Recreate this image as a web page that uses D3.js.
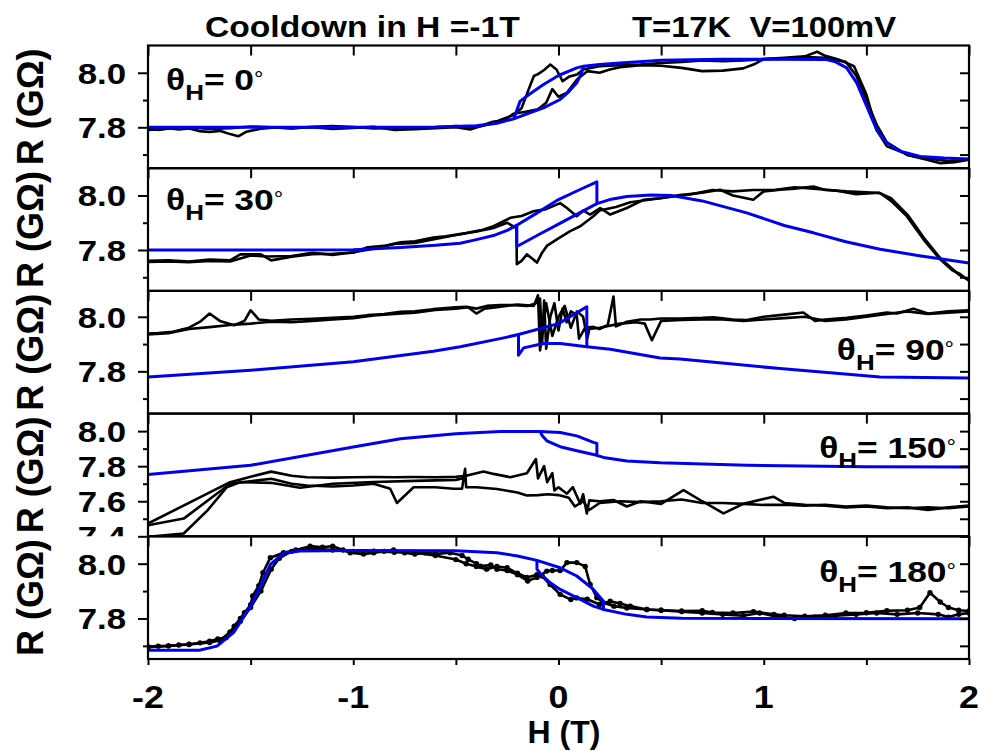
<!DOCTYPE html>
<html><head><meta charset="utf-8">
<script src="https://cdn.jsdelivr.net/npm/d3@7"></script>
<style>
body{margin:0;background:#fff;}
text{font-family:"Liberation Sans",Arial,sans-serif;font-weight:bold;fill:#000;}
</style></head>
<body><svg id="c" width="984" height="751"></svg>
<script>
// ---------------- data ----------------
const H_TICK_LABELS = ["-2","-1","0","1","2"];
const H_MINOR = [-1.5,-0.5,0.5,1.5];
const ANGLES = ["0","30","90","150","180"];
const R_TICKS_STD = [7.8, 8.0];
const R_MINOR_STD = [7.7, 7.9];
const R_TICKS_150 = [7.4, 7.6, 7.8, 8.0];
const R_MINOR_150 = [7.5, 7.7, 7.9];
const TITLE_LEFT = "Cooldown in H =-1T";
const TITLE_RIGHT = "T=17K  V=100mV";

// theta = 0
const p0_blackUp = [[-2.0,7.795],[-1.95,7.79],[-1.9,7.797],[-1.85,7.792],[-1.8,7.796],[-1.75,7.786],[-1.7,7.783],[-1.65,7.787],[-1.6,7.775],[-1.56,7.767],[-1.52,7.784],[-1.45,7.795],[-1.38,7.799],[-1.3,7.797],[-1.2,7.8],[-1.1,7.794],[-1.0,7.798],[-0.9,7.802],[-0.8,7.79],[-0.7,7.793],[-0.6,7.797],[-0.5,7.8],[-0.43,7.792],[-0.38,7.805],[-0.32,7.82],[-0.26,7.826],[-0.22,7.85],[-0.16,7.857],[-0.1,7.866],[-0.06,7.89],[-0.03,7.94],[0.0,7.912],[0.04,7.926],[0.09,7.975],[0.14,8.006],[0.2,8.0],[0.25,8.012],[0.3,8.02],[0.4,8.028],[0.5,8.026],[0.6,8.018],[0.7,8.006],[0.8,8.008],[0.9,8.016],[0.95,8.03],[1.0,8.05],[1.1,8.055],[1.2,8.06],[1.26,8.077],[1.3,8.062],[1.36,8.05],[1.44,8.024],[1.5,7.92],[1.55,7.79],[1.6,7.73],[1.73,7.693],[1.8,7.68],[1.86,7.668],[1.93,7.672],[2.0,7.681]];
const p0_blackDown = [[2.0,7.684],[1.9,7.676],[1.8,7.686],[1.7,7.698],[1.6,7.745],[1.55,7.81],[1.5,7.9],[1.45,7.99],[1.4,8.04],[1.3,8.055],[1.2,8.058],[1.1,8.052],[1.0,8.05],[0.9,8.045],[0.8,8.042],[0.7,8.045],[0.6,8.04],[0.5,8.036],[0.4,8.03],[0.3,8.028],[0.2,8.024],[0.12,8.012],[0.09,7.994],[0.05,7.985],[0.02,7.969],[-0.01,8.012],[-0.04,8.03],[-0.07,8.01],[-0.1,7.995],[-0.12,7.988],[-0.15,7.93],[-0.18,7.87],[-0.22,7.845],[-0.28,7.828],[-0.33,7.812],[-0.4,7.8],[-0.5,7.805],[-0.6,7.8],[-0.7,7.795],[-0.8,7.798],[-0.9,7.796],[-1.0,7.801],[-1.1,7.805],[-1.2,7.802],[-1.3,7.796],[-1.4,7.8],[-1.5,7.803],[-1.6,7.797],[-1.7,7.794],[-1.8,7.8],[-1.9,7.795],[-2.0,7.79]];
const p0_blueUp = [[-2.0,7.8],[-1.5,7.8],[-1.0,7.8],[-0.6,7.801],[-0.4,7.806],[-0.3,7.815],[-0.218,7.831],[-0.15,7.85],[-0.073,7.871],[0.008,7.902],[0.05,7.93],[0.089,7.963],[0.11,7.995],[0.122,8.024],[0.2,8.03],[0.3,8.036],[0.5,8.046],[0.8,8.05],[1.0,8.05],[1.3,8.049],[1.35,8.04],[1.404,8.018],[1.453,7.963],[1.502,7.877],[1.551,7.79],[1.6,7.743],[1.664,7.712],[1.762,7.693],[1.88,7.687],[2.0,7.684]];
const p0_blueDown = [[0.122,8.024],[0.089,8.018],[0.0,7.99],[-0.073,7.957],[-0.14,7.922],[-0.187,7.896],[-0.218,7.831]];

// theta = 30
const p1_blackUp = [[-2.0,7.76],[-1.9,7.762],[-1.8,7.758],[-1.7,7.765],[-1.6,7.762],[-1.55,7.784],[-1.45,7.784],[-1.4,7.762],[-1.3,7.775],[-1.2,7.785],[-1.1,7.786],[-1.0,7.79],[-0.93,7.81],[-0.85,7.815],[-0.77,7.828],[-0.7,7.832],[-0.61,7.846],[-0.55,7.85],[-0.45,7.862],[-0.38,7.872],[-0.317,7.887],[-0.235,7.918],[-0.18,7.925],[-0.122,7.942],[-0.06,7.95],[0.008,7.972],[0.041,7.954],[0.089,7.924],[0.12,7.945],[0.154,7.93],[0.203,7.954],[0.252,7.93],[0.333,7.954],[0.414,7.984],[0.495,7.99],[0.592,8.002],[0.7,8.01],[0.787,8.021],[0.85,8.0],[0.949,7.984],[1.0,8.015],[1.08,8.021],[1.15,8.025],[1.242,8.033],[1.3,8.02],[1.404,8.015],[1.5,8.012],[1.567,8.009],[1.62,7.98],[1.697,7.924],[1.778,7.839],[1.859,7.766],[1.92,7.725],[1.956,7.712],[2.0,7.687]];
const p1_blackDown = [[2.0,7.69],[1.95,7.71],[1.86,7.77],[1.78,7.845],[1.7,7.93],[1.62,7.99],[1.56,8.01],[1.45,8.005],[1.35,8.018],[1.242,8.025],[1.15,8.03],[1.05,8.02],[0.95,8.02],[0.85,8.015],[0.75,8.02],[0.65,8.005],[0.55,7.995],[0.45,7.985],[0.35,7.975],[0.28,7.958],[0.2,7.945],[0.17,7.924],[0.106,7.887],[0.057,7.869],[-0.008,7.839],[-0.057,7.815],[-0.08,7.79],[-0.105,7.754],[-0.13,7.77],[-0.154,7.784],[-0.18,7.76],[-0.203,7.748],[-0.205,7.88],[-0.25,7.9],[-0.32,7.88],[-0.4,7.868],[-0.5,7.855],[-0.6,7.84],[-0.7,7.826],[-0.8,7.822],[-0.9,7.805],[-1.0,7.792],[-1.1,7.782],[-1.2,7.79],[-1.3,7.778],[-1.42,7.776],[-1.5,7.78],[-1.6,7.758],[-1.7,7.76],[-1.8,7.755],[-1.9,7.758],[-2.0,7.756]];
const p1_blueUp = [[-2.0,7.8],[-1.5,7.8],[-1.0,7.801],[-0.77,7.809],[-0.6,7.817],[-0.479,7.825],[-0.4,7.838],[-0.317,7.853],[-0.25,7.872],[-0.203,7.891],[-0.1,7.938],[0.0,7.985],[0.1,8.02],[0.187,8.05],[0.187,7.97],[0.25,7.985],[0.333,7.996],[0.45,8.002],[0.55,8.0],[0.7,7.98],[0.917,7.936],[1.1,7.89],[1.242,7.863],[1.4,7.83],[1.567,7.803],[1.75,7.78],[2.0,7.752]];
const p1_blueDown = [[0.187,7.97],[0.0,7.895],[-0.1,7.855],[-0.203,7.813],[-0.203,7.891]];

// theta = 90
const p2_blackUp = [[-2.0,7.939],[-1.95,7.94],[-1.88,7.945],[-1.8,7.96],[-1.746,7.982],[-1.7,8.012],[-1.65,7.985],[-1.58,7.969],[-1.53,7.985],[-1.5,8.024],[-1.46,7.99],[-1.4,7.985],[-1.3,7.99],[-1.2,7.993],[-1.1,7.996],[-1.0,8.0],[-0.93,8.006],[-0.85,8.01],[-0.77,8.018],[-0.7,8.02],[-0.61,8.028],[-0.5,8.035],[-0.45,8.037],[-0.4,8.03],[-0.35,8.04],[-0.284,8.043],[-0.22,8.043],[-0.15,8.04],[-0.11,8.05],[-0.09,8.067],[-0.08,7.9],[-0.07,8.06],[-0.06,7.883],[-0.04,8.0],[-0.02,8.05],[0.0,7.95],[0.02,8.03],[0.04,7.98],[0.06,8.02],[0.089,8.006],[0.1,7.92],[0.13,7.96],[0.17,7.963],[0.2,7.955],[0.24,7.97],[0.268,8.074],[0.28,7.965],[0.333,7.982],[0.4,7.99],[0.446,7.99],[0.5,7.994],[0.592,7.994],[0.7,7.996],[0.755,7.998],[0.85,7.99],[0.917,7.988],[1.0,8.0],[1.1,8.008],[1.193,8.016],[1.25,7.985],[1.3,7.99],[1.404,7.996],[1.5,8.005],[1.6,8.016],[1.65,8.012],[1.729,8.03],[1.8,8.012],[1.9,8.02],[2.0,8.024]];
const p2_blackDown = [[2.0,8.02],[1.9,8.015],[1.8,8.01],[1.7,8.02],[1.6,8.01],[1.5,8.0],[1.4,7.99],[1.3,7.985],[1.2,8.0],[1.1,7.995],[1.0,7.99],[0.9,7.985],[0.8,7.99],[0.7,7.99],[0.6,7.988],[0.5,7.985],[0.455,7.914],[0.42,7.975],[0.38,7.98],[0.3,7.975],[0.2,7.96],[0.15,7.955],[0.14,7.92],[0.12,8.0],[0.09,8.02],[0.06,7.96],[0.03,8.04],[0.0,8.0],[-0.03,7.93],[-0.06,8.05],[-0.09,7.877],[-0.1,8.079],[-0.12,8.04],[-0.2,8.045],[-0.3,8.035],[-0.36,8.03],[-0.4,8.012],[-0.44,8.035],[-0.5,8.03],[-0.6,8.025],[-0.7,8.015],[-0.8,8.01],[-0.9,8.005],[-1.0,7.995],[-1.1,7.99],[-1.2,7.985],[-1.3,7.98],[-1.4,7.982],[-1.5,7.975],[-1.6,7.97],[-1.7,7.962],[-1.8,7.955],[-1.9,7.94],[-2.0,7.935]];
const p2_blueUp = [[-2.0,7.779],[-1.5,7.804],[-1.0,7.835],[-0.61,7.874],[-0.479,7.89],[-0.284,7.92],[-0.195,7.935],[0.0,7.975],[0.138,8.037],[0.138,7.89],[0.252,7.881],[0.495,7.849],[0.592,7.845],[1.08,7.81],[1.567,7.779],[2.0,7.776]];
const p2_blueDown = [[0.138,7.89],[0.008,7.902],[-0.073,7.902],[-0.17,7.886],[-0.195,7.859],[-0.195,7.935]];

// theta = 150
const p3_blackA = [[-2.0,7.473],[-1.6,7.709],[-1.5,7.74],[-1.4,7.769],[-1.3,7.745],[-1.226,7.737],[-1.1,7.735],[-1.0,7.737],[-0.9,7.738],[-0.8,7.737],[-0.7,7.738],[-0.6,7.737],[-0.5,7.74],[-0.45,7.745],[-0.4,7.76],[-0.365,7.77],[-0.317,7.756],[-0.235,7.737],[-0.154,7.76],[-0.11,7.841],[-0.1,7.73],[-0.07,7.8],[-0.055,7.709],[-0.03,7.76],[-0.02,7.662],[0.0,7.68],[0.041,7.643],[0.07,7.68],[0.106,7.586],[0.12,7.64],[0.138,7.53],[0.15,7.605],[0.2,7.6],[0.268,7.607],[0.333,7.57],[0.4,7.6],[0.5,7.585],[0.609,7.664],[0.7,7.6],[0.804,7.531],[0.9,7.585],[1.047,7.626],[1.1,7.59],[1.2,7.58],[1.3,7.575],[1.4,7.565],[1.5,7.57],[1.6,7.56],[1.7,7.565],[1.8,7.55],[1.9,7.565],[2.0,7.575]];
const p3_blackB = [[2.0,7.57],[1.9,7.56],[1.8,7.565],[1.7,7.56],[1.6,7.565],[1.5,7.575],[1.4,7.57],[1.3,7.58],[1.2,7.575],[1.1,7.58],[1.0,7.579],[0.9,7.585],[0.8,7.59],[0.7,7.59],[0.6,7.61],[0.5,7.6],[0.4,7.595],[0.3,7.6],[0.2,7.59],[0.15,7.55],[0.12,7.6],[0.08,7.57],[0.05,7.62],[0.0,7.635],[-0.05,7.64],[-0.1,7.635],[-0.154,7.633],[-0.2,7.65],[-0.3,7.67],[-0.4,7.68],[-0.45,7.68],[-0.455,7.785],[-0.47,7.671],[-0.51,7.671],[-0.6,7.68],[-0.706,7.68],[-0.787,7.59],[-0.82,7.671],[-0.9,7.7],[-1.0,7.69],[-1.1,7.684],[-1.226,7.69],[-1.3,7.7],[-1.4,7.728],[-1.6,7.7],[-1.826,7.501],[-2.0,7.463]];
const p3_blackC = [[-2.0,7.397],[-1.826,7.416],[-1.71,7.548],[-1.616,7.68],[-1.55,7.709],[-1.4,7.705],[-1.26,7.677],[-1.1,7.7],[-0.9,7.71],[-0.7,7.716],[-0.5,7.722],[-0.45,7.735]];
const p3_blueUp = [[-2.0,7.752],[-1.5,7.805],[-1.0,7.909],[-0.77,7.956],[-0.5,7.985],[-0.284,7.998],[-0.089,7.998],[0.008,7.992],[0.089,7.973],[0.17,7.936],[0.187,7.93],[0.187,7.862],[0.219,7.85],[0.333,7.83],[0.495,7.82],[0.917,7.805],[1.5,7.797],[2.0,7.796]];
const p3_blueDown = [[0.187,7.862],[0.089,7.888],[0.008,7.911],[-0.057,7.945],[-0.08,7.975],[-0.089,7.998]];

// theta = 180
const p4_blackUp = [[-2.0,7.697],[-1.95,7.699],[-1.9,7.7],[-1.85,7.703],[-1.8,7.706],[-1.746,7.711],[-1.7,7.717],[-1.66,7.725],[-1.62,7.73],[-1.6,7.75],[-1.58,7.772],[-1.55,7.8],[-1.53,7.821],[-1.5,7.85],[-1.49,7.882],[-1.46,7.92],[-1.44,7.967],[-1.404,8.022],[-1.34,8.04],[-1.28,8.05],[-1.21,8.064],[-1.15,8.06],[-1.1,8.064],[-1.05,8.05],[-1.015,8.04],[-0.95,8.035],[-0.9,8.04],[-0.85,8.045],[-0.804,8.05],[-0.75,8.04],[-0.7,8.035],[-0.65,8.04],[-0.6,8.036],[-0.528,8.04],[-0.47,8.03],[-0.44,8.016],[-0.4,8.0],[-0.38,7.991],[-0.33,7.995],[-0.3,7.98],[-0.25,7.975],[-0.2,7.96],[-0.15,7.937],[-0.105,7.95],[-0.057,7.973],[-0.03,7.975],[0.008,7.975],[0.041,8.004],[0.089,8.004],[0.13,7.99],[0.154,7.924],[0.187,7.876],[0.219,7.857],[0.27,7.845],[0.333,7.838],[0.43,7.833],[0.5,7.83],[0.6,7.827],[0.7,7.828],[0.75,7.822],[0.85,7.82],[0.95,7.825],[1.05,7.815],[1.1,7.812],[1.2,7.808],[1.3,7.812],[1.4,7.82],[1.5,7.821],[1.6,7.828],[1.7,7.83],[1.76,7.84],[1.81,7.894],[1.86,7.86],[1.9,7.84],[1.95,7.83],[2.0,7.827]];
const p4_blackDown = [[2.0,7.82],[1.95,7.815],[1.9,7.805],[1.85,7.815],[1.75,7.82],[1.65,7.815],[1.55,7.82],[1.45,7.815],[1.35,7.81],[1.25,7.805],[1.15,7.8],[1.07,7.805],[0.98,7.82],[0.9,7.81],[0.8,7.815],[0.7,7.82],[0.6,7.825],[0.5,7.83],[0.43,7.833],[0.35,7.845],[0.3,7.855],[0.252,7.863],[0.2,7.851],[0.14,7.87],[0.089,7.875],[0.06,7.869],[0.008,7.888],[-0.041,7.924],[-0.08,7.955],[-0.105,7.96],[-0.154,7.95],[-0.2,7.965],[-0.25,7.985],[-0.3,7.99],[-0.35,7.98],[-0.4,7.99],[-0.45,8.0],[-0.5,8.015],[-0.6,8.03],[-0.7,8.04],[-0.8,8.042],[-0.9,8.046],[-1.0,8.045],[-1.1,8.05],[-1.2,8.055],[-1.3,8.045],[-1.36,8.02],[-1.4,7.98],[-1.45,7.9],[-1.5,7.84],[-1.55,7.79],[-1.6,7.75],[-1.65,7.72],[-1.7,7.712],[-1.8,7.705],[-1.9,7.7],[-2.0,7.695]];
const p4_blueUp = [[-2.0,7.684],[-1.75,7.684],[-1.664,7.699],[-1.583,7.748],[-1.5,7.845],[-1.453,7.918],[-1.404,7.997],[-1.34,8.038],[-1.26,8.046],[-1.0,8.048],[-0.5,8.047],[-0.3,8.04],[-0.2,8.028],[-0.105,8.012],[0.008,7.985],[0.089,7.955],[0.17,7.906],[0.219,7.863],[0.219,7.833],[0.333,7.815],[0.43,7.805],[0.6,7.801],[1.0,7.8],[2.0,7.799]];
const p4_blueDown = [[0.219,7.833],[0.17,7.845],[0.089,7.876],[0.008,7.906],[-0.04,7.93],[-0.09,7.965],[-0.105,7.98],[-0.105,8.012]];

// ---------------- chart ----------------
const W = 984, H = 751;
const PLOT_L = 148, PLOT_R = 969, PANEL_TOP = 45.5, PANEL_H = 122.7;
const FONT = '"Liberation Sans", Arial, sans-serif';
const svg = d3.select('#c');
const defs = svg.append('defs');
const x = d3.scaleLinear().domain([-2, 2]).range([PLOT_L, PLOT_R]);

const panels = [
  {angle: ANGLES[0], domain: [7.65, 8.1], ticks: R_TICKS_STD, minor: R_MINOR_STD, black: [p0_blackUp, p0_blackDown], blue: [p0_blueUp, p0_blueDown], label: {pos: 'left', x: 166, y: 90}},
  {angle: ANGLES[1], domain: [7.65, 8.1], ticks: R_TICKS_STD, minor: R_MINOR_STD, black: [p1_blackUp, p1_blackDown], blue: [p1_blueUp, p1_blueDown], label: {pos: 'left', x: 166, y: 210}},
  {angle: ANGLES[2], domain: [7.645, 8.095], ticks: R_TICKS_STD, minor: R_MINOR_STD, black: [p2_blackUp, p2_blackDown], blue: [p2_blueUp, p2_blueDown], label: {pos: 'right', x: 954, y: 360}},
  {angle: ANGLES[3], domain: [7.4, 8.1], ticks: R_TICKS_150, minor: R_MINOR_150, black: [p3_blackA, p3_blackB, p3_blackC], blue: [p3_blueUp, p3_blueDown], label: {pos: 'right', x: 956, y: 458}},
  {angle: ANGLES[4], domain: [7.652, 8.1], ticks: R_TICKS_STD, minor: R_MINOR_STD, black: [p4_blackUp, p4_blackDown], blue: [p4_blueUp, p4_blueDown], dots: true, label: {pos: 'right', x: 956, y: 582}}
];

function sText(g, tx, ty, str, size, anchor, sx) {
  return g.append('text')
    .attr('transform', `translate(${tx},${ty}) scale(${sx},1)`)
    .attr('text-anchor', anchor)
    .style('font-size', size + 'px')
    .text(str);
}

// title
sText(svg, 205, 37, TITLE_LEFT, 29, 'start', 1.16);
sText(svg, 632, 37, TITLE_RIGHT, 29, 'start', 1.13).style('white-space', 'pre');

const xTicksAll = H_TICK_LABELS.map(Number).concat(H_MINOR).sort((a, b) => a - b);

panels.forEach((p, i) => {
  const top = PANEL_TOP + i * PANEL_H, bot = top + PANEL_H;
  const y = d3.scaleLinear().domain(p.domain).range([bot, top]);

  defs.append('clipPath').attr('id', 'clip' + i)
    .append('rect').attr('x', PLOT_L).attr('y', top).attr('width', PLOT_R - PLOT_L).attr('height', PANEL_H);
  defs.append('clipPath').attr('id', 'lab' + i)
    .append('rect').attr('x', 0).attr('y', top).attr('width', PLOT_L).attr('height', PANEL_H);

  const g = svg.append('g').attr('clip-path', `url(#clip${i})`);
  const line = d3.line().x(d => x(d[0])).y(d => y(d[1]));

  p.black.forEach(s => {
    g.append('path').attr('d', line(s)).attr('fill', 'none')
      .attr('stroke', '#000').attr('stroke-width', 2.6).attr('stroke-linejoin', 'round');
  });
  if (p.dots) {
    p.black.forEach(s => {
      g.selectAll(null).data(s).enter().append('circle')
        .attr('cx', d => x(d[0])).attr('cy', d => y(d[1])).attr('r', 2.7).attr('fill', '#000');
    });
  }
  p.blue.forEach(s => {
    g.append('path').attr('d', line(s)).attr('fill', 'none')
      .attr('stroke', '#0000f0').attr('stroke-width', 3).attr('stroke-linejoin', 'round');
  });

  // axes: left (outward), right (inward), top x ticks (inward)
  const axL = svg.append('g').attr('transform', `translate(${PLOT_L},0)`)
    .call(d3.axisLeft(y).tickValues(p.ticks).tickSize(10).tickFormat(''));
  const axLm = svg.append('g').attr('transform', `translate(${PLOT_L},0)`)
    .call(d3.axisLeft(y).tickValues(p.minor).tickSize(5).tickFormat(''));
  const axR = svg.append('g').attr('transform', `translate(${PLOT_R},0)`)
    .call(d3.axisRight(y).tickValues(p.ticks.concat(p.minor)).tickSize(-9).tickFormat(''));
  const axT = svg.append('g').attr('transform', `translate(0,${top})`)
    .call(d3.axisTop(x).tickValues(xTicksAll).tickSize(-10).tickFormat(''));
  [axL, axLm, axR, axT].forEach(a => {
    a.select('.domain').remove();
    a.selectAll('line').attr('stroke', '#000').attr('stroke-width', 2);
  });

  // frame
  svg.append('rect').attr('x', PLOT_L).attr('y', top).attr('width', PLOT_R - PLOT_L).attr('height', PANEL_H)
    .attr('fill', 'none').attr('stroke', '#000').attr('stroke-width', 2.2);

  // tick labels (clipped to panel band)
  const lg = svg.append('g').attr('clip-path', `url(#lab${i})`);
  p.ticks.forEach(t => {
    sText(lg, 126, y(t) + 11, d3.format('.1f')(t), 30, 'end', 1.16);
  });

  // y axis title
  svg.append('text')
    .attr('transform', `translate(43,${(top + bot) / 2}) rotate(-90)`)
    .attr('text-anchor', 'middle').style('font-size', '36px')
    .text('R (G\u03A9)');

  // angle annotation
  const t = svg.append('text')
    .attr('transform', `translate(${p.label.x},${p.label.y}) scale(1.18,1)`)
    .attr('text-anchor', p.label.pos === 'left' ? 'start' : 'end')
    .style('font-size', '30px');
  t.append('tspan').text('\u03B8');
  t.append('tspan').attr('dy', 10).style('font-size', '22px').text('H');
  t.append('tspan').attr('dy', -10).text('= ' + p.angle);
  t.append('tspan').attr('dy', -4).style('font-size', '20px').style('font-weight', 'normal').text('\u00B0');

  if (i === panels.length - 1) {
    const axB = svg.append('g').attr('transform', `translate(0,${bot})`)
      .call(d3.axisBottom(x).tickValues(xTicksAll).tickSize(6).tickFormat(''));
    axB.select('.domain').remove();
    axB.selectAll('line').attr('stroke', '#000').attr('stroke-width', 2);
    H_TICK_LABELS.forEach(lbl => {
      sText(svg, x(Number(lbl)), 708, lbl, 32, 'middle', 1.12);
    });
    svg.append('text').attr('x', 564).attr('y', 743).attr('text-anchor', 'middle')
      .style('font-size', '32px').text('H (T)');
  }
});
</script></body></html>
